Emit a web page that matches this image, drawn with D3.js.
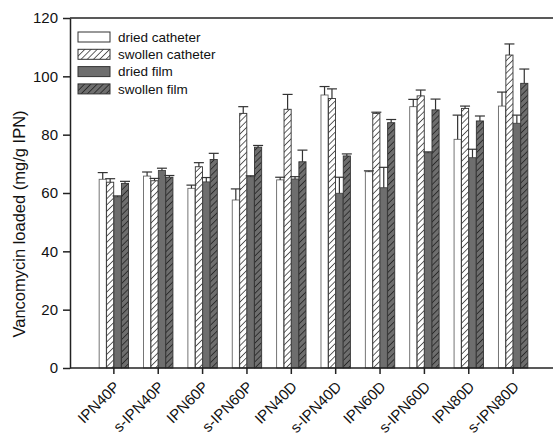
<!DOCTYPE html>
<html>
<head>
<meta charset="utf-8">
<script src="https://cdn.jsdelivr.net/npm/d3@7"></script>
<style>
  html, body { margin: 0; padding: 0; background: #fff; }
  svg { display: block; font-family: "Liberation Sans", Arial, sans-serif; }
</style>
</head>
<body>
<svg id="chart" width="553" height="435"></svg>
<script>
// Sample formulations along the x axis
const categories = ["IPN40P", "s-IPN40P", "IPN60P", "s-IPN60P", "IPN40D",
                    "s-IPN40D", "IPN60D", "s-IPN60D", "IPN80D", "s-IPN80D"];

// Series names (legend order)
const seriesNames = ["dried catheter", "swollen catheter", "dried film", "swollen film"];

// Vancomycin loaded (mg/g IPN), mean per series
const driedCatheter   = [64.7, 65.8, 61.6, 57.6, 64.5, 93.6, 67.3, 89.6, 78.4, 89.8];
const swollenCatheter = [63.7, 64.2, 69.0, 87.3, 88.7, 92.4, 87.3, 93.3, 89.0, 107.3];
const driedFilm       = [58.7, 67.7, 63.8, 65.6, 64.8, 59.9, 61.8, 73.8, 72.1, 83.9];
const swollenFilm     = [63.3, 65.4, 71.5, 75.7, 70.7, 72.7, 84.1, 88.5, 84.7, 97.6];

// Standard deviations (upper whisker)
const driedCatheterErr   = [2.3, 1.4, 1.1, 3.8, 0.9, 2.9, 0.3, 2.5, 8.3, 4.8];
const swollenCatheterErr = [1.2, 0.8, 1.4, 2.3, 5.1, 3.3, 0.4, 2.0, 0.8, 3.8];
const driedFilmErr       = [0.3, 0.8, 1.5, 0.3, 0.8, 5.5, 7.0, 0.3, 2.9, 2.8];
const swollenFilmErr     = [0.7, 0.6, 2.1, 0.6, 4.0, 0.7, 1.1, 3.7, 1.7, 4.9];

// Y axis ticks
const yTicks = [0, 20, 40, 60, 80, 100, 120];

const seriesValues = [driedCatheter, swollenCatheter, driedFilm, swollenFilm];
const seriesErrors = [driedCatheterErr, swollenCatheterErr, driedFilmErr, swollenFilmErr];

const svg = d3.select("#chart");
const axisColor = "#222";

const x0 = 69, x1 = 557, yTop = 18, yBottom = 368;

const x = d3.scalePoint().domain(categories).range([x0, x1]).padding(1);
const xInner = d3.scaleBand().domain(seriesNames).range([-14.5, 15.5]).padding(0.04);
const y = d3.scaleLinear().domain([0, 120]).range([yBottom, yTop]);

// Hatch patterns for the swollen series
const defs = svg.append("defs");
function hatch(id, bg) {
  const p = defs.append("pattern")
    .attr("id", id)
    .attr("patternUnits", "userSpaceOnUse")
    .attr("width", 4.4).attr("height", 4.4)
    .attr("patternTransform", "rotate(45)");
  p.append("rect").attr("width", 4.4).attr("height", 4.4).attr("fill", bg);
  p.append("line").attr("x1", 0).attr("y1", 0).attr("x2", 0).attr("y2", 4.4)
    .attr("stroke", "#111").attr("stroke-width", 1.3);
}
hatch("hatchLight", "#ffffff");
hatch("hatchDark", "#6e6e6e");

const fills = ["#ffffff", "url(#hatchLight)", "#6e6e6e", "url(#hatchDark)"];
const strokes = ["#666", "#333", "#444", "#333"];

// Bars and error bars
const rows = [];
seriesNames.forEach((s, si) => {
  categories.forEach((c, ci) => {
    rows.push({ s, si, c, v: seriesValues[si][ci], e: seriesErrors[si][ci] });
  });
});

const g = svg.append("g");
g.selectAll("rect.bar").data(rows).join("rect")
  .attr("class", "bar")
  .attr("x", d => x(d.c) + xInner(d.s))
  .attr("y", d => y(d.v))
  .attr("width", xInner.bandwidth())
  .attr("height", d => y(0) - y(d.v))
  .attr("fill", d => fills[d.si])
  .attr("stroke", d => strokes[d.si])
  .attr("stroke-width", 0.9);

const capHalf = 5;
const eb = g.selectAll("g.err").data(rows).join("g").attr("class", "err")
  .attr("stroke", "#333").attr("stroke-width", 1.2);
eb.append("line")
  .attr("x1", d => x(d.c) + xInner(d.s) + xInner.bandwidth() / 2)
  .attr("x2", d => x(d.c) + xInner(d.s) + xInner.bandwidth() / 2)
  .attr("y1", d => y(d.v))
  .attr("y2", d => y(d.v + d.e));
eb.append("line")
  .attr("x1", d => x(d.c) + xInner(d.s) + xInner.bandwidth() / 2 - capHalf)
  .attr("x2", d => x(d.c) + xInner(d.s) + xInner.bandwidth() / 2 + capHalf)
  .attr("y1", d => y(d.v + d.e))
  .attr("y2", d => y(d.v + d.e));

// Top frame line
svg.append("line")
  .attr("x1", 70).attr("x2", x1).attr("y1", yTop).attr("y2", yTop)
  .attr("stroke", axisColor).attr("stroke-width", 1.5);

// Left axis
const yAxis = svg.append("g")
  .attr("transform", "translate(70,0)")
  .call(d3.axisLeft(y).tickValues(yTicks).tickSize(7).tickSizeOuter(0).tickPadding(5));
yAxis.selectAll("path, line").attr("stroke", axisColor).attr("stroke-width", 1.5);
yAxis.selectAll("text").attr("font-size", 15).attr("fill", "#111")
  .attr("font-family", "'Liberation Sans', Arial, sans-serif");

// Bottom axis
const xAxis = svg.append("g")
  .attr("transform", `translate(0,${yBottom})`)
  .call(d3.axisBottom(x).tickSize(6).tickSizeOuter(0));
xAxis.select("path").attr("d", `M70,0H${x1}`);
xAxis.selectAll("path, line").attr("stroke", axisColor).attr("stroke-width", 1.5);
xAxis.selectAll("text")
  .attr("font-size", 15).attr("fill", "#111")
  .attr("font-family", "'Liberation Sans', Arial, sans-serif")
  .attr("text-anchor", "end")
  .attr("dy", "0.35em")
  .attr("y", 0)
  .attr("transform", "translate(3,16) rotate(-45)");

// Y axis title
svg.append("text")
  .attr("transform", "translate(25,224) rotate(-90)")
  .attr("text-anchor", "middle")
  .attr("font-size", 16.5)
  .attr("fill", "#111")
  .text("Vancomycin loaded (mg/g IPN)");

// Legend
const legend = svg.append("g").attr("transform", "translate(78,32)");
const li = legend.selectAll("g").data(seriesNames).join("g")
  .attr("transform", (d, i) => `translate(0,${i * 17.3})`);
li.append("rect")
  .attr("width", 32).attr("height", 10)
  .attr("fill", (d, i) => fills[i])
  .attr("stroke", "#333").attr("stroke-width", 1);
li.append("text")
  .attr("x", 40).attr("y", 5).attr("dy", "0.35em")
  .attr("font-size", 13.5).attr("fill", "#111")
  .text(d => d);
</script>
</body>
</html>
